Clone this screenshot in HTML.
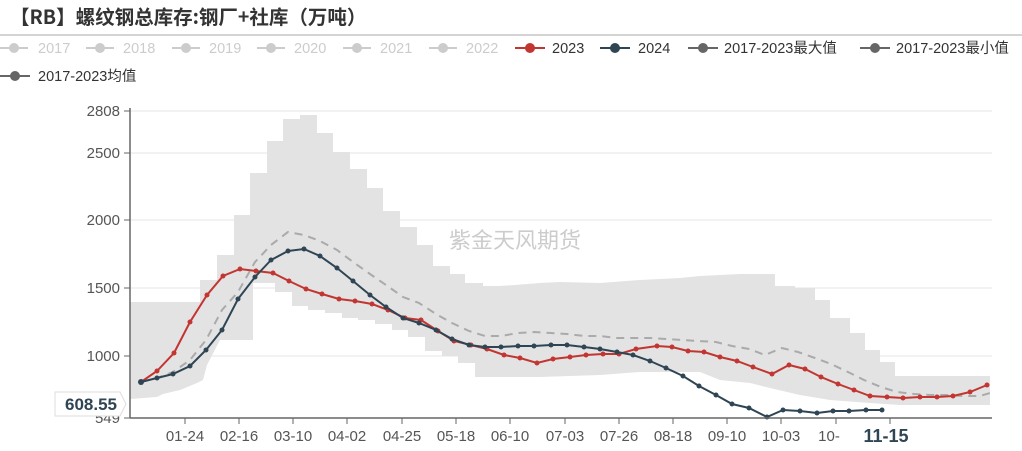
<!DOCTYPE html>
<html><head><meta charset="utf-8"><style>
body{margin:0;background:#fff;width:1022px;height:446px;overflow:hidden;font-family:"Liberation Sans","Noto Sans CJK SC",sans-serif;}
</style></head><body>
<svg width="1022" height="446" xmlns="http://www.w3.org/2000/svg" font-family="Liberation Sans, Noto Sans CJK SC, sans-serif">
<text x="10" y="24" font-size="19.5" font-weight="bold" fill="#333" font-family="Noto Sans CJK SC, sans-serif">【RB】螺纹钢总库存:钢厂+社库（万吨）</text>
<line x1="0" y1="35" x2="1022" y2="35" stroke="#aaa" stroke-width="1"/>
<g font-size="14.5">
<g fill="#ccc" stroke="#ccc">
<line x1="0" y1="48" x2="28" y2="48" stroke-width="2"/><circle cx="14" cy="48" r="5" stroke="none"/>
<line x1="86" y1="48" x2="114" y2="48" stroke-width="2"/><circle cx="100" cy="48" r="5" stroke="none"/>
<line x1="172" y1="48" x2="200" y2="48" stroke-width="2"/><circle cx="186" cy="48" r="5" stroke="none"/>
<line x1="257" y1="48" x2="285" y2="48" stroke-width="2"/><circle cx="271" cy="48" r="5" stroke="none"/>
<line x1="343" y1="48" x2="371" y2="48" stroke-width="2"/><circle cx="357" cy="48" r="5" stroke="none"/>
<line x1="429" y1="48" x2="457" y2="48" stroke-width="2"/><circle cx="443" cy="48" r="5" stroke="none"/>
</g>
<g fill="#ccc"><text x="38" y="53">2017</text><text x="123" y="53">2018</text><text x="209" y="53">2019</text><text x="294" y="53">2020</text><text x="380" y="53">2021</text><text x="466" y="53">2022</text></g>
<line x1="515" y1="48" x2="545" y2="48" stroke="#c23531" stroke-width="2"/><circle cx="530" cy="48" r="5" fill="#c23531"/><text x="552" y="53" fill="#333">2023</text>
<line x1="600" y1="48" x2="630" y2="48" stroke="#2f4554" stroke-width="2"/><circle cx="615" cy="48" r="5" fill="#2f4554"/><text x="638" y="53" fill="#333">2024</text>
<line x1="688" y1="48" x2="718" y2="48" stroke="#666" stroke-width="2"/><circle cx="703" cy="48" r="5" fill="#666"/><text x="724" y="53" fill="#333">2017-2023最大值</text>
<line x1="860" y1="48" x2="890" y2="48" stroke="#666" stroke-width="2"/><circle cx="875" cy="48" r="5" fill="#666"/><text x="896" y="53" fill="#333">2017-2023最小值</text>
<line x1="0" y1="76" x2="30" y2="76" stroke="#666" stroke-width="2"/><circle cx="15" cy="76" r="5" fill="#666"/><text x="38" y="81" fill="#333">2017-2023均值</text>
</g>
<g stroke="#e6e6e6" stroke-width="1">
<line x1="130" y1="111" x2="992" y2="111"/><line x1="130" y1="153" x2="992" y2="153"/><line x1="130" y1="220" x2="992" y2="220"/><line x1="130" y1="288" x2="992" y2="288"/><line x1="130" y1="356" x2="992" y2="356"/>
</g>
<polygon fill="#e3e3e3" points="130,302 200,302 200,280 217,280 217,255 234,255 234,215 250,215 250,173 267,173 267,141 283,141 283,119 300,119 300,115 317,115 317,133 333,133 333,152 350,152 350,169 367,169 367,188 383,188 383,211 400,211 400,227 417,227 417,245 433,245 433,266 450,266 450,274 465,274 465,283 483,283 483,286 500,286 515,285 540,283 560,282 600,283 640,280 680,278 700,276 720,275 740,274 760,274 775,274 775,286 795,286 795,288 815,288 815,300 830,300 830,318 850,318 850,333 865,333 865,350 880,350 880,362 895,362 895,376 990,376 990,405 900,405 870,403 830,400 800,395 770,388 750,383 720,380 700,372 640,372 600,375 540,377 475,377 475,363 458,363 458,356 442,356 442,351 425,351 425,337 408,337 408,330 392,330 392,324 375,324 375,320 358,320 358,318 342,318 342,313 325,313 325,310 308,310 308,306 292,306 292,292 275,292 275,283 253,283 253,340 220,340 207,365 203,380 197,383 180,390 163,394 157,397 130,399"/>
<text x="515" y="248" font-size="22" fill="#ccc" text-anchor="middle" font-family="Noto Sans CJK SC, sans-serif">紫金天风期货</text>
<polyline fill="none" stroke="#aaa" stroke-width="2" stroke-dasharray="8,6" points="141,382 157,378 173,372 190,360 206,340 222,310 238,292 255,262 271,245 288,232 304,235 320,241 337,250 353,262 370,274 386,285 403,297 419,303 436,314 452,323 469,331 485,336 501,336 518,333 534,332 551,333 567,334 584,336 600,336 617,338 633,338 650,338 666,339 683,340 699,341 716,342 732,346 749,349 765,355 782,348 798,352 815,358 831,364 848,372 864,380 881,387 897,392 914,394 930,395 947,395 963,396 980,396 990,393"/>
<polyline fill="none" stroke="#c23531" stroke-width="2" points="141,382 157,371 174,353 190,322 207,295 223,276 240,269 256,271 273,273 289,281 306,289 322,294 339,299 355,301 372,304 388,310 405,318 421,320 438,331 454,341 471,345 487,349 504,355 520,358 537,363 553,359 570,357 586,355 603,354 619,354 636,349 657,346 672,347 688,351 704,352 720,357 737,361 753,367 772,374 789,365 805,369 821,377 838,384 854,390 870,396 887,397 903,398 920,397 937,397 953,396 970,392 987,385"/>
<g fill="#c23531">
<circle cx="157" cy="371" r="2.5"/><circle cx="174" cy="353" r="2.5"/><circle cx="190" cy="322" r="2.5"/><circle cx="207" cy="295" r="2.5"/><circle cx="223" cy="276" r="2.5"/><circle cx="240" cy="269" r="2.5"/><circle cx="256" cy="271" r="2.5"/><circle cx="273" cy="273" r="2.5"/><circle cx="289" cy="281" r="2.5"/><circle cx="306" cy="289" r="2.5"/><circle cx="322" cy="294" r="2.5"/><circle cx="339" cy="299" r="2.5"/><circle cx="355" cy="301" r="2.5"/><circle cx="372" cy="304" r="2.5"/><circle cx="388" cy="310" r="2.5"/><circle cx="405" cy="318" r="2.5"/><circle cx="421" cy="320" r="2.5"/><circle cx="438" cy="331" r="2.5"/><circle cx="454" cy="341" r="2.5"/><circle cx="471" cy="345" r="2.5"/><circle cx="487" cy="349" r="2.5"/><circle cx="504" cy="355" r="2.5"/><circle cx="520" cy="358" r="2.5"/><circle cx="537" cy="363" r="2.5"/><circle cx="553" cy="359" r="2.5"/><circle cx="570" cy="357" r="2.5"/><circle cx="586" cy="355" r="2.5"/><circle cx="603" cy="354" r="2.5"/><circle cx="619" cy="354" r="2.5"/><circle cx="636" cy="349" r="2.5"/><circle cx="657" cy="346" r="2.5"/><circle cx="672" cy="347" r="2.5"/><circle cx="688" cy="351" r="2.5"/><circle cx="704" cy="352" r="2.5"/><circle cx="720" cy="357" r="2.5"/><circle cx="737" cy="361" r="2.5"/><circle cx="753" cy="367" r="2.5"/><circle cx="772" cy="374" r="2.5"/><circle cx="789" cy="365" r="2.5"/><circle cx="805" cy="369" r="2.5"/><circle cx="821" cy="377" r="2.5"/><circle cx="838" cy="384" r="2.5"/><circle cx="854" cy="390" r="2.5"/><circle cx="870" cy="396" r="2.5"/><circle cx="887" cy="397" r="2.5"/><circle cx="903" cy="398" r="2.5"/><circle cx="920" cy="397" r="2.5"/><circle cx="937" cy="397" r="2.5"/><circle cx="953" cy="396" r="2.5"/><circle cx="970" cy="392" r="2.5"/><circle cx="987" cy="385" r="2.5"/>
</g>
<polyline fill="none" stroke="#2f4554" stroke-width="2" points="141,382 157,378 173,374 190,366 206,350 222,330 238,299 255,277 271,260 288,251 304,249 320,256 337,268 353,281 370,295 386,307 403,318 419,323 436,330 452,339 469,345 485,347 501,347 518,346 534,346 551,345 567,345 584,347 600,349 617,352 633,355 650,361 666,368 683,376 699,386 716,395 732,404 749,408 767,417 783,410 800,411 817,413 833,411 849,411 866,410 882,410"/>
<g fill="#2f4554">
<circle cx="141" cy="382" r="3"/><circle cx="157" cy="378" r="2.5"/><circle cx="173" cy="374" r="2.5"/><circle cx="190" cy="366" r="2.5"/><circle cx="206" cy="350" r="2.5"/><circle cx="222" cy="330" r="2.5"/><circle cx="238" cy="299" r="2.5"/><circle cx="255" cy="277" r="2.5"/><circle cx="271" cy="260" r="2.5"/><circle cx="288" cy="251" r="2.5"/><circle cx="304" cy="249" r="2.5"/><circle cx="320" cy="256" r="2.5"/><circle cx="337" cy="268" r="2.5"/><circle cx="353" cy="281" r="2.5"/><circle cx="370" cy="295" r="2.5"/><circle cx="386" cy="307" r="2.5"/><circle cx="403" cy="318" r="2.5"/><circle cx="419" cy="323" r="2.5"/><circle cx="436" cy="330" r="2.5"/><circle cx="452" cy="339" r="2.5"/><circle cx="469" cy="345" r="2.5"/><circle cx="485" cy="347" r="2.5"/><circle cx="501" cy="347" r="2.5"/><circle cx="518" cy="346" r="2.5"/><circle cx="534" cy="346" r="2.5"/><circle cx="551" cy="345" r="2.5"/><circle cx="567" cy="345" r="2.5"/><circle cx="584" cy="347" r="2.5"/><circle cx="600" cy="349" r="2.5"/><circle cx="617" cy="352" r="2.5"/><circle cx="633" cy="355" r="2.5"/><circle cx="650" cy="361" r="2.5"/><circle cx="666" cy="368" r="2.5"/><circle cx="683" cy="376" r="2.5"/><circle cx="699" cy="386" r="2.5"/><circle cx="716" cy="395" r="2.5"/><circle cx="732" cy="404" r="2.5"/><circle cx="749" cy="408" r="2.5"/><circle cx="767" cy="417" r="2.5"/><circle cx="783" cy="410" r="2.5"/><circle cx="800" cy="411" r="2.5"/><circle cx="817" cy="413" r="2.5"/><circle cx="833" cy="411" r="2.5"/><circle cx="849" cy="411" r="2.5"/><circle cx="866" cy="410" r="2.5"/><circle cx="882" cy="410" r="2.5"/>
</g>
<line x1="130" y1="108" x2="130" y2="418" stroke="#666" stroke-width="1.5"/>
<line x1="130" y1="418" x2="992" y2="418" stroke="#666" stroke-width="1.5"/>
<g stroke="#666"><line x1="124" y1="111" x2="130" y2="111"/><line x1="124" y1="153" x2="130" y2="153"/><line x1="124" y1="220" x2="130" y2="220"/><line x1="124" y1="288" x2="130" y2="288"/><line x1="124" y1="356" x2="130" y2="356"/><line x1="124" y1="418" x2="130" y2="418"/>
<line x1="185" y1="418" x2="185" y2="424"/><line x1="239" y1="418" x2="239" y2="424"/><line x1="293" y1="418" x2="293" y2="424"/><line x1="347" y1="418" x2="347" y2="424"/><line x1="402" y1="418" x2="402" y2="424"/><line x1="456" y1="418" x2="456" y2="424"/><line x1="510" y1="418" x2="510" y2="424"/><line x1="565" y1="418" x2="565" y2="424"/><line x1="619" y1="418" x2="619" y2="424"/><line x1="673" y1="418" x2="673" y2="424"/><line x1="727" y1="418" x2="727" y2="424"/><line x1="781" y1="418" x2="781" y2="424"/><line x1="836" y1="418" x2="836" y2="424"/><line x1="890" y1="418" x2="890" y2="424"/></g>
<g font-size="15" fill="#555" text-anchor="end"><text x="120" y="116">2808</text><text x="120" y="158">2500</text><text x="120" y="225">2000</text><text x="120" y="293">1500</text><text x="120" y="361">1000</text><text x="120" y="423">549</text></g>
<g font-size="15" fill="#555" text-anchor="middle"><text x="185" y="441">01-24</text><text x="239" y="441">02-16</text><text x="293" y="441">03-10</text><text x="347" y="441">04-02</text><text x="402" y="441">04-25</text><text x="456" y="441">05-18</text><text x="510" y="441">06-10</text><text x="565" y="441">07-03</text><text x="619" y="441">07-26</text><text x="673" y="441">08-18</text><text x="727" y="441">09-10</text><text x="781" y="441">10-03</text><text x="829" y="441">10-</text></g>
<text x="886" y="442" font-size="18" font-weight="bold" fill="#2f4554" text-anchor="middle">11-15</text>
<polygon points="55,392 120,392 126,404 120,416 55,416" fill="#fff" stroke="#ddd"/>
<text x="91" y="410" font-size="17" font-weight="bold" fill="#2f4554" text-anchor="middle">608.55</text>
</svg>
</body></html>
